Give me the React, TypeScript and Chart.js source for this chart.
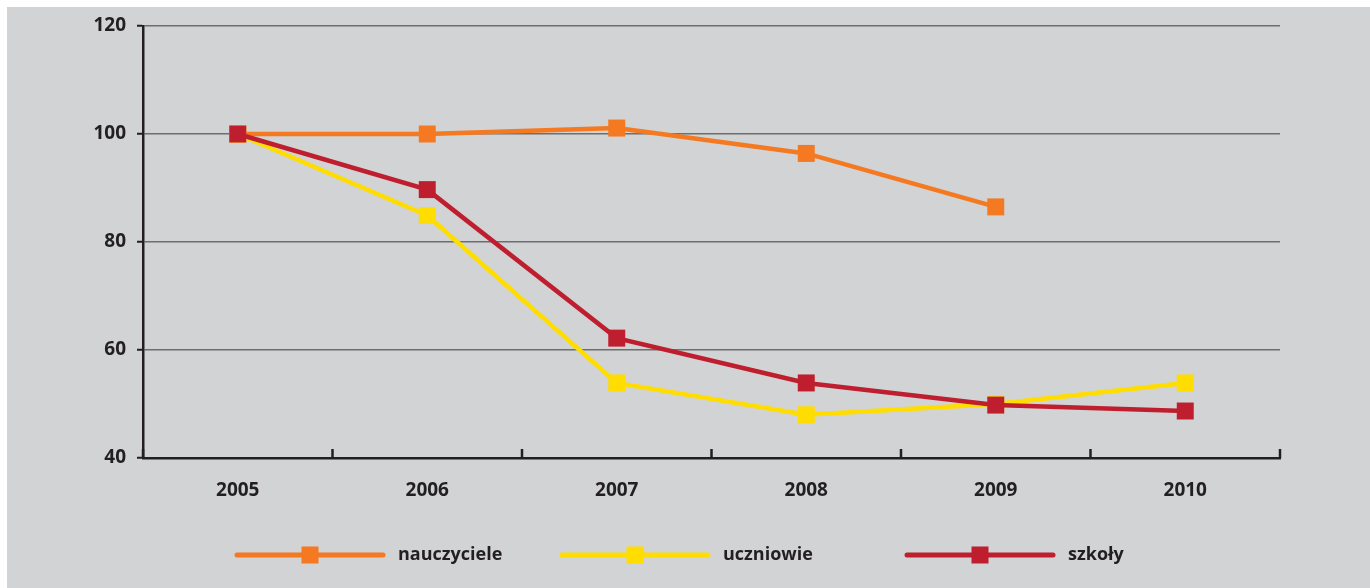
import React, { useEffect, useRef } from "react";
import { Chart, registerables } from "chart.js";

Chart.register(...registerables);

const years = ["2005", "2006", "2007", "2008", "2009", "2010"];
const nauczyciele = [100, 100, 101.1, 96.4, 86.5, null];
const uczniowie = [100, 84.9, 53.9, 48.0, 50.0, 53.9];
const szkoly = [100, 89.7, 62.2, 53.9, 49.8, 48.7];
const seriesLabels = ["nauczyciele", "uczniowie", "szkoły"];
const seriesColors = ["#f47920", "#ffdd00", "#be1e2d"];
const yTicks = [40, 60, 80, 100, 120];

const FONT = "'Open Sans', 'Noto Sans', sans-serif";
const TEXT = "#231f20";

const innerTicks = {
  id: "innerTicks",
  afterDatasetsDraw(chart: any) {
    const x = chart.scales.x;
    const ctx = chart.ctx;
    const n = chart.data.labels.length;
    ctx.save();
    ctx.strokeStyle = TEXT;
    ctx.lineWidth = 2.5;
    for (let i = 0; i <= n; i++) {
      const px = x.left + (i * (x.right - x.left)) / n;
      ctx.beginPath();
      ctx.moveTo(px, x.top);
      ctx.lineTo(px, x.top - 9);
      ctx.stroke();
    }
    ctx.restore();
  },
};

const customLegend = {
  id: "customLegend",
  afterDraw(chart: any) {
    const ctx = chart.ctx;
    const starts = [230, 555, 900];
    const y = 548;
    const lineLen = 146;
    ctx.save();
    chart.data.datasets
      .slice()
      .sort((a: any, b: any) => a.legendIndex - b.legendIndex)
      .forEach((ds: any, i: number) => {
        const x0 = starts[i];
        ctx.strokeStyle = ds.borderColor;
        ctx.lineWidth = 5;
        ctx.lineCap = "round";
        ctx.beginPath();
        ctx.moveTo(x0, y);
        ctx.lineTo(x0 + lineLen, y);
        ctx.stroke();
        ctx.fillStyle = ds.borderColor;
        ctx.fillRect(x0 + lineLen / 2 - 8.5, y - 8.5, 17, 17);
        ctx.fillStyle = TEXT;
        ctx.font = `bold 18px ${FONT}`;
        ctx.textBaseline = "middle";
        ctx.textAlign = "left";
        ctx.fillText(ds.label, x0 + lineLen + 15, y);
      });
    ctx.restore();
  },
};

export default function App() {
  const ref = useRef<HTMLCanvasElement>(null);
  useEffect(() => {
    if (!ref.current) return;
    const mk = (label: string, data: any[], color: string, order: number, legendIndex: number) => ({
      label,
      data,
      borderColor: color,
      backgroundColor: color,
      borderWidth: 4.5,
      pointStyle: "rect",
      pointRadius: 12,
      pointBorderWidth: 0,
      pointHoverRadius: 12,
      spanGaps: false,
      order,
      legendIndex,
    });
    const chart = new Chart(ref.current, {
      type: "line",
      data: {
        labels: years,
        datasets: [
          mk(seriesLabels[0], nauczyciele, seriesColors[0], 2, 0),
          mk(seriesLabels[1], uczniowie, seriesColors[1], 1, 1),
          mk(seriesLabels[2], szkoly, seriesColors[2], 0, 2),
        ] as any,
      },
      options: {
        animation: false,
        responsive: false,
        layout: { padding: { left: 0, right: 90, top: 19, bottom: 80 } },
        plugins: { legend: { display: false }, tooltip: { enabled: false } },
        scales: {
          x: {
            offset: true,
            grid: { display: false, offset: true },
            border: { display: true, color: TEXT, width: 2.5 },
            ticks: { color: TEXT, font: { family: FONT, size: 19, weight: "bold" }, padding: 13 },
            afterFit: (s: any) => {
              s.height = 50;
            },
          },
          y: {
            min: 40,
            max: 120,
            afterBuildTicks: (s: any) => {
              s.ticks = yTicks.map((v) => ({ value: v }));
            },
            grid: { color: "#6d6e71", lineWidth: 1.5, tickLength: 6, tickColor: TEXT, tickWidth: 2 },
            border: { display: true, color: TEXT, width: 2.5 },
            ticks: { color: TEXT, font: { family: FONT, size: 19, weight: "bold", lineHeight: 0.8 }, padding: 11 },
            afterFit: (s: any) => {
              s.width = 136;
            },
          },
        },
      } as any,
      plugins: [innerTicks, customLegend],
    });
    return () => chart.destroy();
  }, []);
  return (
    <div style={{ position: "fixed", left: 7, top: 7, width: 1363, height: 581, background: "#d1d3d4" }}>
      <canvas ref={ref} width={1363} height={581} style={{ display: "block" }} />
    </div>
  );
}
